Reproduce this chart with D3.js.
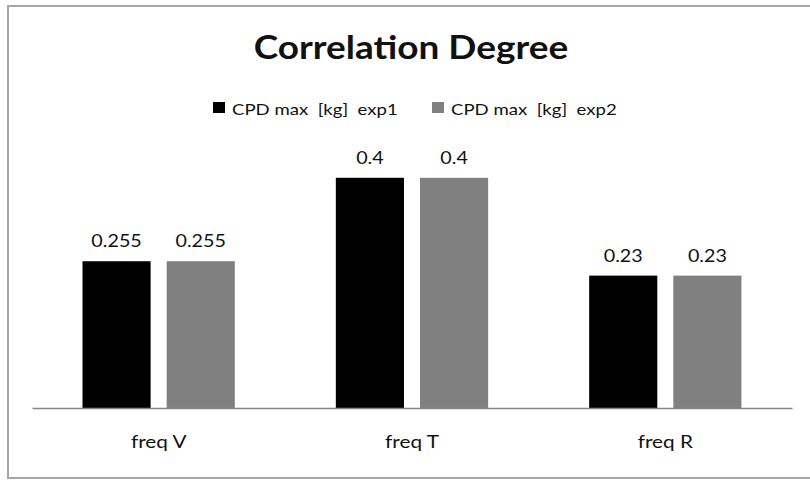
<!DOCTYPE html>
<html><head><meta charset="utf-8">
<script src="https://cdn.jsdelivr.net/npm/d3@7"></script>
<style>body{margin:0;background:#fff;} text{font-family:Lato,"Open Sans",sans-serif;fill:#111;white-space:pre;}</style>
</head><body><svg id="c" width="810" height="480"></svg>
<script>
const title = "Correlation Degree";
const categories = ["freq V", "freq T", "freq R"];
const seriesNames = ["CPD max  [kg]  exp1", "CPD max  [kg]  exp2"];
const exp1 = [0.255, 0.4, 0.23];
const exp2 = [0.255, 0.4, 0.23];
const colors = ["#000000", "#808080"];

function stretch(sel, k){
  sel.each(function(){
    const w = this.getComputedTextLength();
    d3.select(this).attr("textLength", w*k).attr("lengthAdjust","spacingAndGlyphs");
  });
}

const svg = d3.select("#c");
svg.append("rect").attr("x",8).attr("y",6).attr("width",830).attr("height",472)
  .attr("fill","#fff").attr("stroke","#a6a6a6").attr("stroke-width",2);

const x0 = d3.scaleBand().domain(categories).range([32,792]).paddingInner(0).paddingOuter(0);
const x1 = d3.scaleBand().domain([0,1]).range([50.5, 253.3-50.5]).paddingInner(16/84);
const y = d3.scaleLinear().domain([0,0.45]).range([408,149]);

const data = categories.map((c,i)=>({cat:c, vals:[exp1[i],exp2[i]]}));
const g = svg.append("g");
const grp = g.selectAll("g.cat").data(data).join("g").attr("transform",d=>`translate(${x0(d.cat)},0)`);
grp.selectAll("rect").data(d=>d.vals.map((v,k)=>({v,k}))).join("rect")
  .attr("x",d=>x1(d.k)).attr("width",x1.bandwidth())
  .attr("y",d=>y(d.v)).attr("height",d=>y(0)-y(d.v))
  .attr("fill",d=>colors[d.k]);
const vals = grp.selectAll("text.val").data(d=>d.vals.map((v,k)=>({v,k}))).join("text").attr("class","val")
  .attr("x",d=>x1(d.k)+x1.bandwidth()/2).attr("y",d=>y(d.v)-14)
  .attr("text-anchor","middle").style("font-size","17px").text(d=>String(d.v));
stretch(vals, 1.16);

// axis
const ax = svg.append("g").attr("transform","translate(0,408)").call(d3.axisBottom(x0).tickSize(0).tickPadding(0));
ax.select(".domain").attr("stroke","#868686").attr("stroke-width",1.5);
const tt = ax.selectAll(".tick text").attr("y",40).attr("dy",0).style("font-size","17px").style("font-family","Lato").attr("fill","#111");
stretch(tt, 1.22);

const tEl = svg.append("text").attr("x",411).attr("y",59).attr("text-anchor","middle")
  .style("font-size","32px").style("font-weight","bold").text(title);
stretch(tEl, 1.155);

const leg = svg.append("g");
const legX = [213, 432];
seriesNames.forEach((s,i)=>{
  leg.append("rect").attr("x",legX[i]).attr("y",102).attr("width",12).attr("height",11).attr("fill",colors[i]);
  const t = leg.append("text").attr("x",legX[i]+19).attr("y",115).style("font-size","16px").text(s);
  stretch(t, 1.16);
});
</script></body></html>
